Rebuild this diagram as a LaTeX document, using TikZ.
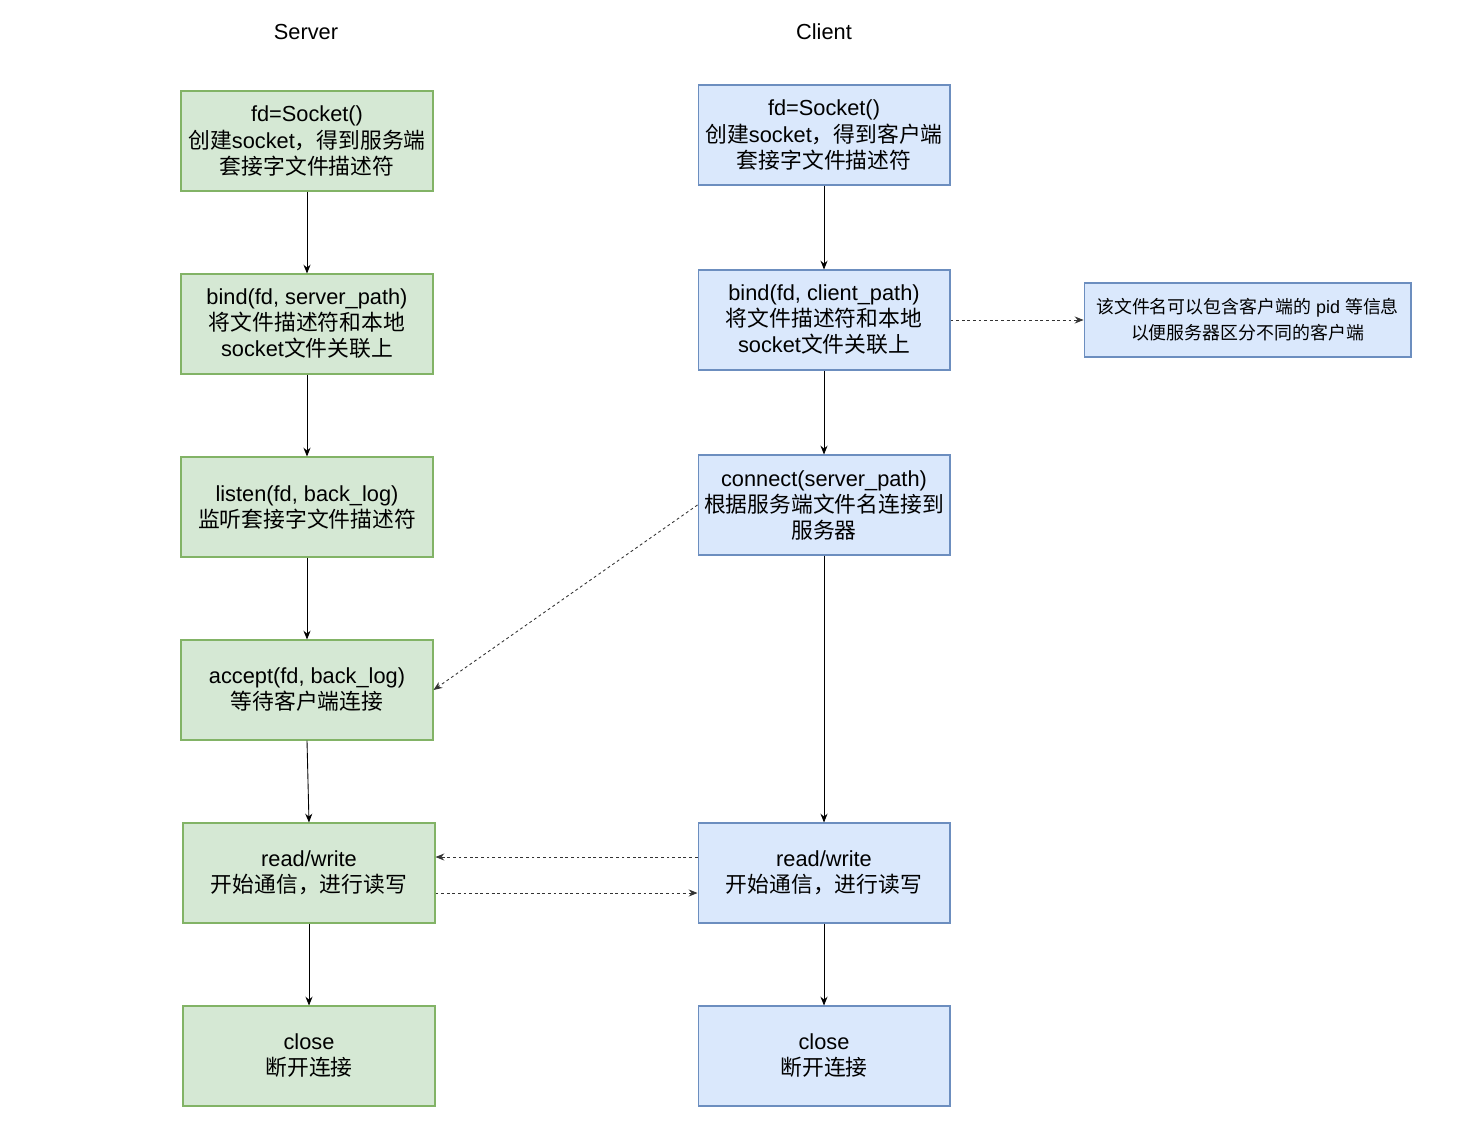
\documentclass[tikz,border=0pt]{standalone}
\usepackage{fontspec}
\setmainfont{Noto Sans CJK SC}
\newfontfamily\lat{Liberation Sans}
\usetikzlibrary{arrows.meta}
\newcommand{\en}[1]{{\lat #1}}
\definecolor{srvfill}{HTML}{D5E8D4}
\definecolor{srvline}{HTML}{82B366}
\definecolor{clifill}{HTML}{DAE8FC}
\definecolor{cliline}{HTML}{6C8EBF}
\tikzset{
  srvbox/.style={draw=srvline, fill=srvfill, line width=0.6pt, minimum width=5.04cm, minimum height=2cm, align=center, inner sep=1pt, font=\fontsize{12.4}{14.8}\selectfont},
  clibox/.style={srvbox, draw=cliline, fill=clifill},
  notebox/.style={clibox, minimum width=6.54cm, minimum height=1.48cm, font=\fontsize{10.2}{14.8}\selectfont},
  flow/.style={-{Stealth[length=5pt,width=4pt]}, line width=0.5pt},
  msg/.style={flow, dash pattern=on 1.6pt off 1.6pt, draw=black!80}
}
\begin{document}
\begin{tikzpicture}[x=0.02cm, y=-0.02cm]
			\useasboundingbox (0,0) rectangle (1478,1146);

			% titles
			\node[font=\lat\fontsize{12.4}{14.8}\selectfont] (tsrv) at (306,32) {Server};
			\node[font=\lat\fontsize{12.4}{14.8}\selectfont] (tcli) at (824,32) {Client};

			% server side
			\node[srvbox] (sock) at (307,141) {\en{fd=Socket()}\\创建\en{socket}，得到服务端\\套接字文件描述符};
			\node[srvbox] (bindS) at (307,324) {\en{bind(fd, server\_path)}\\将文件描述符和本地\\\en{socket}文件关联上};
			\node[srvbox] (lsn) at (307,507) {\en{listen(fd, back\_log)}\\监听套接字文件描述符};
			\node[srvbox] (acc) at (307,690) {\en{accept(fd, back\_log)}\\等待客户端连接};
			\node[srvbox] (rwS) at (309,873) {\en{read/write}\\开始通信，进行读写};
			\node[srvbox] (clsS) at (309,1056) {\en{close}\\断开连接};

			% client side
			\node[clibox] (sockC) at (824,135) {\en{fd=Socket()}\\创建\en{socket}，得到客户端\\套接字文件描述符};
			\node[clibox] (bindC) at (824,320) {\en{bind(fd, client\_path)}\\将文件描述符和本地\\\en{socket}文件关联上};
			\node[clibox] (conn) at (824,505) {\en{connect(server\_path)}\\根据服务端文件名连接到\\服务器};
			\node[clibox] (rwC) at (824,873) {\en{read/write}\\开始通信，进行读写};
			\node[clibox] (clsC) at (824,1056) {\en{close}\\断开连接};

			% note
			\node[notebox] (note) at (1247.5,320) {该文件名可以包含客户端的\en{ pid }等信息\\以便服务器区分不同的客户端};

			% solid flow
			\draw[flow] (sock) -- (bindS);
			\draw[flow] (bindS) -- (lsn);
			\draw[flow] (lsn) -- (acc);
			\draw[flow] (acc.south) -- (rwS.north);
			\draw[flow] (rwS) -- (clsS);
			\draw[flow] (sockC) -- (bindC);
			\draw[flow] (bindC) -- (conn);
			\draw[flow] (conn) -- (rwC);
			\draw[flow] (rwC) -- (clsC);

			% dashed messages
			\draw[msg] (bindC) -- (note);
			\draw[msg] (conn.west) -- (acc.east);
			\draw[msg] ([yshift=0.32cm]rwC.west) -- ([yshift=0.32cm]rwS.east);
			\draw[msg] ([yshift=-0.4cm]rwS.east) -- ([yshift=-0.4cm]rwC.west);
		\end{tikzpicture}
\end{document}
